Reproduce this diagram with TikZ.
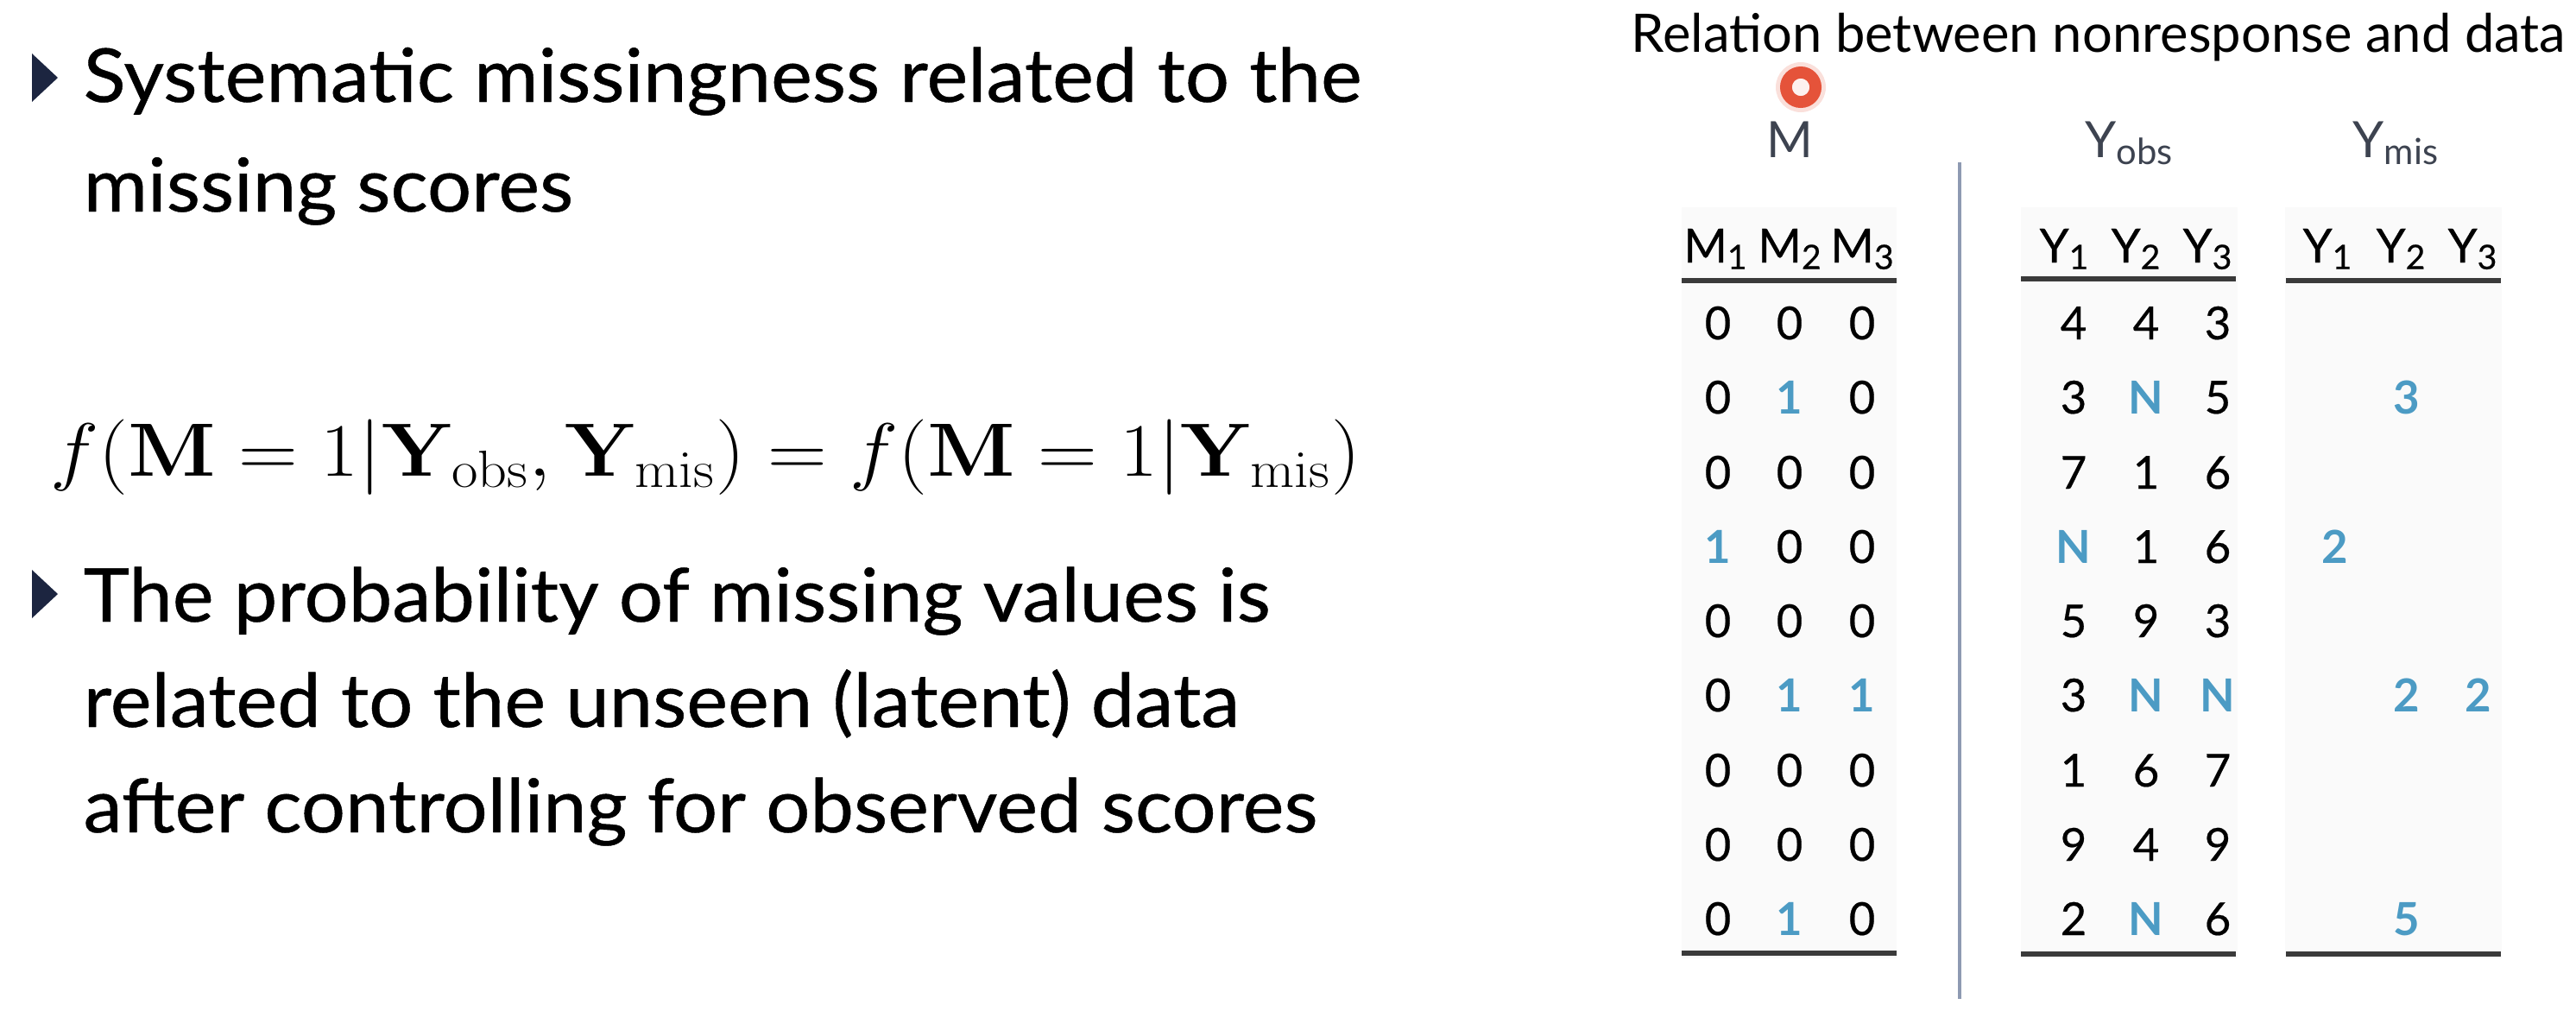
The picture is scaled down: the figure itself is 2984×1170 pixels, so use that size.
\documentclass[tikz,border=0pt]{standalone}
\usepackage[no-math]{fontspec}
\usepackage{amsmath}
\usepackage{graphicx}
\setmainfont{Lato}
\newfontfamily\bulfont[FakeStretch=1.05, FakeBold=0.5]{Lato}
\newfontfamily\tabfont[FakeBold=0.4]{Lato}
\definecolor{navy}{HTML}{1C2540}
\definecolor{mblue}{HTML}{4C9BC4}
\definecolor{slate}{HTML}{3D4350}
\definecolor{vlinec}{HTML}{8E9AB2}
\definecolor{ringc}{HTML}{E5533A}
\definecolor{rulec}{HTML}{3A3A3A}
\newcommand\sbx[1]{\raisebox{-0.28ex}{\scalebox{0.72}{#1}}}
\tikzset{
  bul/.style={anchor=base west, inner sep=0pt, font=\bulfont\fontsize{24.5}{29}\selectfont},
  cell/.style={anchor=base, inner sep=0pt, font=\tabfont\fontsize{15}{18}\selectfont},
  bcell/.style={cell, text=mblue, font=\fontsize{15}{18}\selectfont\bfseries},
  hdr/.style={anchor=base, inner sep=0pt, font=\tabfont\fontsize{15.5}{18}\selectfont},
  grp/.style={anchor=base, inner sep=0pt, text=slate, font=\fontsize{16.5}{20}\selectfont},
  tabrule/.style={draw=rulec, line width=0.55mm},
  colbg/.style={fill=black!2, draw=none},
}
\begin{document}
\begin{tikzpicture}[x=0.1mm, y=-0.1mm]
\useasboundingbox (0,0) rectangle (2984,1170);
% left bullets
\fill[navy] (37,62) -- (67,90) -- (37,118) -- cycle;
\node[bul] (b1a) at (96,118) {Systematic missingness related to the};
\node[bul] (b1b) at (96,245) {missing scores};
\node[anchor=base west, inner sep=0pt, font=\fontsize{26}{31}\selectfont] (eq) at (58,551)
  {\scalebox{1.09}[1]{$f\!\left(\mathbf{M}=1\middle|\mathbf{Y}_{\mathrm{obs}},\mathbf{Y}_{\mathrm{mis}}\right)=f\!\left(\mathbf{M}=1\middle|\mathbf{Y}_{\mathrm{mis}}\right)$}};
\fill[navy] (37,660) -- (67,688) -- (37,716) -- cycle;
\node[bul] (b2a) at (96,720) {The probability of missing values is};
\node[bul] (b2b) at (96,842) {related to the unseen (latent) data};
\node[bul] (b2c) at (96,964) {after controlling for observed scores};
% title
\node[anchor=base, inner sep=0pt, font=\fontsize{17.5}{21}\selectfont] (title) at (2431,60) {Relation between nonresponse and data};
% ring marker
\fill[ringc, opacity=0.18] (2086,101) circle (29);
\draw[ringc, line width=1.4mm] (2086,101) circle (17);
\fill[white!92!ringc] (2086,101) circle (10);
% column backgrounds
\fill[colbg] (1948,240) rectangle (2197,1110);
\fill[colbg] (2341,240) rectangle (2592,1110);
\fill[colbg] (2647,240) rectangle (2898,1110);
% group labels
\node[grp] (gM) at (2073,182) {M};
\node[grp] (gYo) at (2466,182) {Y\sbx{obs}};
\node[grp] (gYm) at (2775,182) {Y\sbx{mis}};
% vertical separator
\coordinate (vtop) at (2270,188);
\coordinate (vbot) at (2270,1157);
\draw[vlinec, line width=0.4mm] (vtop) -- (vbot);
% headers
\foreach \x/\k in {1987/1,2073/2,2157/3} \node[hdr] (hm\k) at (\x,304) {M\sbx{\k}};
\foreach \x/\k in {2391/1,2474/2,2557/3} \node[hdr] (hyo\k) at (\x,304) {Y\sbx{\k}};
\foreach \x/\k in {2696/1,2781/2,2864/3} \node[hdr] (hym\k) at (\x,304) {Y\sbx{\k}};
% rules
\coordinate (r1a) at (1948,325); \coordinate (r1b) at (2197,325);
\coordinate (r2a) at (2341,323); \coordinate (r2b) at (2590,323);
\coordinate (r3a) at (2648,325); \coordinate (r3b) at (2897,325);
\coordinate (s1a) at (1948,1104); \coordinate (s1b) at (2197,1104);
\coordinate (s2a) at (2341,1105); \coordinate (s2b) at (2590,1105);
\coordinate (s3a) at (2648,1105); \coordinate (s3b) at (2897,1105);
\draw[tabrule] (r1a) -- (r1b); \draw[tabrule] (r2a) -- (r2b); \draw[tabrule] (r3a) -- (r3b);
\draw[tabrule] (s1a) -- (s1b); \draw[tabrule] (s2a) -- (s2b); \draw[tabrule] (s3a) -- (s3b);
% M matrix
\foreach \r/\y/\a/\b/\c in {1/393/0/0/0, 2/479/0/1/0, 3/566/0/0/0, 4/652/1/0/0, 5/738/0/0/0, 6/824/0/1/1, 7/911/0/0/0, 8/997/0/0/0, 9/1083/0/1/0}{
  \foreach \x/\v/\k in {1990/\a/1, 2073/\b/2, 2157/\c/3}{
    \ifnum\v=1 \node[bcell] (m\r-\k) at (\x,\y) {1};
    \else \node[cell] (m\r-\k) at (\x,\y) {0}; \fi
  }
}
% Y observed
\foreach \r/\y/\a/\b/\c in {1/393/4/4/3, 2/479/3/N/5, 3/566/7/1/6, 4/652/N/1/6, 5/738/5/9/3, 6/824/3/N/N, 7/911/1/6/7, 8/997/9/4/9, 9/1083/2/N/6}{
  \foreach \x/\v/\k in {2402/\a/1, 2486/\b/2, 2569/\c/3}{
    \if N\v \node[bcell] (yo\r-\k) at (\x,\y) {N};
    \else \node[cell] (yo\r-\k) at (\x,\y) {\v}; \fi
  }
}
% Y missing
\node[bcell] (ym2-2) at (2788,479) {3};
\node[bcell] (ym4-1) at (2705,652) {2};
\node[bcell] (ym6-2) at (2788,824) {2};
\node[bcell] (ym6-3) at (2871,824) {2};
\node[bcell] (ym9-2) at (2788,1083) {5};
\end{tikzpicture}
\end{document}
